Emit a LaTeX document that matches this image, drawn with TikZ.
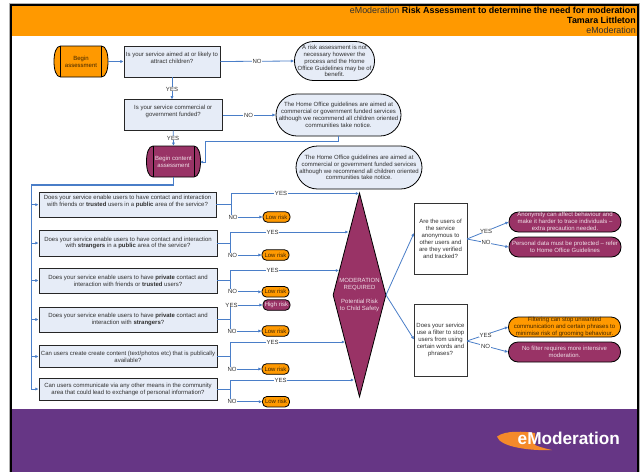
\documentclass[tikz,border=0pt]{standalone}
\usepackage{fontspec}
\setmainfont{Liberation Sans}
\usetikzlibrary{arrows.meta,shapes.geometric}
\definecolor{hdr}{HTML}{FF9900}
\definecolor{plum}{HTML}{993366}
\definecolor{foot}{HTML}{663685}
\definecolor{pale}{HTML}{E6ECF7}
\definecolor{wire}{HTML}{4A7EC8}
\definecolor{ink}{HTML}{303030}
\definecolor{swoosh}{HTML}{F58A2A}
\newcommand{\capsuleshape}[2]{%
  \begin{scope}[shift={#1}]
  \filldraw[fill=#2,draw=black,line width=.8pt] (-20.5,-15.5) -- (20.5,-15.5)
    .. controls (25,-15.5) and (27,-8) .. (27,0) .. controls (27,8) and (25,15.5) .. (20.5,15.5)
    -- (-20.5,15.5) .. controls (-25,15.5) and (-27,8) .. (-27,0) .. controls (-27,-8) and (-25,-15.5) .. (-20.5,-15.5) -- cycle;
  \draw[black,line width=.8pt] (-20.5,-15.5) -- (-20.5,15.5) (20.5,-15.5) -- (20.5,15.5);
  \end{scope}}
\tikzset{
  x=1pt,y=-1pt,
  every node/.style={font=\fontsize{6}{6.9}\selectfont,align=center,text=ink,inner sep=0pt},
  qbox/.style={draw=black!85,line width=.9pt,fill=pale,anchor=center},
  oval/.style={draw=black,line width=.8pt,fill=pale,rounded corners=19pt},
  pillplum/.style={draw=black,line width=.8pt,fill=plum,text=white!85!plum,rounded corners=9.5pt,minimum width=112pt,minimum height=20pt},
  pillorange/.style={pillplum,fill=hdr,text=black!75!hdr},
  lowrisk/.style={draw=black,line width=.8pt,fill=hdr,text=black!75!hdr,rounded corners=4.5pt,minimum width=27pt,minimum height=10.5pt},
  highrisk/.style={lowrisk,fill=plum,text=white!85!plum},
  whitebox/.style={draw=black!80,line width=.9pt,fill=white,minimum width=53pt},
  conn/.style={draw=wire,line width=.8pt},
  arrowed/.style={conn,-{Latex[length=3.2pt,width=3.2pt]}},
  lab/.style={fill=white,inner xsep=.6pt,inner ysep=.2pt},
  capsuletext/.style={minimum width=54pt,minimum height=31pt},
}
\begin{document}
\begin{tikzpicture}
\useasboundingbox (0,0) rectangle (640,472);
\fill[white] (0,0) rectangle (640,472);
% bands
\fill[hdr] (11,5) rectangle (638,36);
\fill[foot] (11,409) rectangle (638,472);
\draw[black!30,line width=.6pt] (9.4,3.4) -- (639.6,3.4) (9.4,3.4) -- (9.4,472) (639.6,3.4) -- (639.6,472);
\draw[black,line width=2pt] (11,472) -- (11,5) -- (638,5) -- (638,472);
% header
\node[anchor=east,text=black,font=\fontsize{8.9}{10}\selectfont,align=right] (title) at (636,20)
 {\textcolor{ink}{eModeration} \textbf{Risk Assessment to determine the need for moderation}\\ \textbf{Tamara Littleton}\\ \textcolor{ink}{eModeration}};
% logo
\fill[swoosh] (497,436.6) .. controls (505,430) and (525,431.5) .. (535,433) -- (535,445)
  .. controls (542,448) and (548,449) .. (552,450) .. controls (530,451) and (500,447) .. (497,436.6) -- cycle;
\node[text=white,font=\bfseries\fontsize{17.2}{17}\selectfont,anchor=west] (logo) at (517.5,438) {eModeration};
% top flow
\capsuleshape{(81,61.5)}{hdr}
\node[capsuletext,text=black!75!hdr] (begin) at (81,61.5) {Begin\\assessment};
\node[qbox,minimum width=96pt,minimum height=31pt,text depth=8pt] (q1) at (172,61.5) {Is your service aimed at or likely to\\attract children?};
\node[oval,minimum width=80pt,minimum height=39pt] (o1) at (334.5,61) {A risk assessment is not\\necessary however the\\process and the Home\\Office Guidelines may be of\\benefit.};
\node[qbox,minimum width=98.5pt,minimum height=30.5pt,text depth=7.5pt] (q2) at (173.2,115) {Is your service commercial or\\government funded?};
\node[oval,minimum width=125pt,minimum height=42pt,rounded corners=21pt] (o2) at (338.5,115) {The Home Office guidelines are aimed at\\commercial or government funded services\\although we recommend all children oriented\\communities take notice.};
\capsuleshape{(173.5,161.5)}{plum}
\node[capsuletext,text=white!85!plum] (bc) at (173.5,161.5) {Begin content\\assessment};
\node[oval,minimum width=126pt,minimum height=43pt,rounded corners=21.5pt] (o3) at (359,167.5) {The Home Office guidelines are aimed at\\commercial or government funded services\\although we recommend all children oriented\\communities take notice.};
% questions
\node[qbox,minimum width=177pt,minimum height=25.5pt,text depth=7pt] (q3) at (127.5,204.7) {Does your service enable users to have contact and interaction\\with friends or \textbf{trusted} users in a \textbf{public} area of the service?};
\node[qbox,minimum width=178pt,minimum height=26pt] (q4) at (128,243) {Does your service enable users to have contact and interaction\\with \textbf{strangers} in a \textbf{public} area of the service?};
\node[qbox,minimum width=178pt,minimum height=25pt] (q5) at (128,280.5) {Does your service enable users to have \textbf{private} contact and\\interaction with friends or \textbf{trusted} users?};
\node[qbox,minimum width=178pt,minimum height=25pt] (q6) at (128,319.5) {Does your service enable users to have \textbf{private} contact and\\interaction with \textbf{strangers}?};
\node[qbox,minimum width=178pt,minimum height=21.5pt] (q7) at (128,356.5) {Can users create create content (text/photos etc) that is publically\\available?};
\node[qbox,minimum width=178pt,minimum height=22pt] (q8) at (128,389) {Can users communicate via any other means in the community\\area that could lead to exchange of personal information?};
% risk tags
\node[lowrisk] (r3) at (276.5,217) {Low risk};
\node[lowrisk] (r4) at (275.5,255) {Low risk};
\node[lowrisk] (r5) at (275.5,291.8) {Low risk};
\node[highrisk] (r6a) at (276.5,305) {High risk};
\node[lowrisk] (r6) at (275.5,331) {Low risk};
\node[lowrisk] (r7) at (275.5,369) {Low risk};
\node[lowrisk] (r8) at (276,401.7) {Low risk};
% diamond
\node[diamond,draw=black,line width=.8pt,fill=plum,minimum width=53pt,minimum height=204pt] (mod) at (359.5,295) {};
\node[text=white!85!plum] (modtxt) at (359.5,295) {MODERATION\\REQUIRED\\[7.5pt]Potential Risk\\to Child Safety};
% right side
\node[whitebox,minimum height=71pt] (b1) at (440.5,239) {Are the users of\\the service\\anonymous to\\other users and\\are they verified\\and tracked?};
\node[whitebox,minimum height=72pt] (b2) at (440.5,340) {Does your service\\use a filter to stop\\users from using\\certain words and\\phrases?};
\node[pillplum] (pa) at (565,222) {Anonymity can affect behaviour and\\make it harder to trace individuals --\\extra precaution needed.};
\node[pillplum] (pb) at (565,247) {Personal data must be protected -- refer\\to Home Office Guidelines};
\node[pillorange] (pc) at (564.5,327) {Filtering can stop unwanted\\communication and certain phrases to\\minimise risk of grooming behaviour.};
\node[pillplum] (pd) at (564.5,352) {No filter requires more intensive\\moderation.};
% junctions
\coordinate (j3) at (231,204.7);
\coordinate (j4) at (230.5,243);
\coordinate (j5) at (230.5,280.5);
\coordinate (j6) at (230.5,319.5);
\coordinate (j7) at (230.5,356.5);
\coordinate (j8) at (230.5,389);
\coordinate (d3) at (359,193.5);
\coordinate (d4) at (348.5,232);
\coordinate (d5) at (339,270.5);
\coordinate (d7) at (345,342);
\coordinate (d8) at (354,380);
\coordinate (bus) at (31,185);
\coordinate (rb1) at (467,239);
\coordinate (rb2) at (467,341);
\coordinate (b1in) at (414,233);
\coordinate (b2in) at (414,339.5);
\coordinate (modr) at (386,295);
\coordinate (o2out) at (338,136);
\coordinate (o2a) at (338,141);
\coordinate (o2b) at (205,141);
\coordinate (bce) at (200,162);
% connectors
\draw[arrowed] (begin.east) -- (q1.west);
\draw[arrowed] (q1.east) -- (o1.west);
\draw[arrowed] (q1.south) -- (q2.north -| q1.south);
\draw[arrowed] (q2.east) -- (o2.west);
\draw[arrowed] (q2.south) -- (bc.north);
\draw[arrowed] (o2out) -- (o2a) -- (o2b) -- (o2b |- bce) -- (bce);
\draw[conn,line width=1.3pt] (bc.south) |- (bus);
\draw[arrowed] (bus) |- (q8.west);
\foreach \q in {q3,q4,q5,q6,q7}{\draw[arrowed] (bus |- \q.west) -- (\q.west);}
\foreach \q/\j in {q3/j3,q4/j4,q5/j5,q6/j6,q7/j7,q8/j8}{\draw[conn,line width=1pt] (\q.east) -- (\j);}
\draw[arrowed] (j3) |- (d3);  \draw[arrowed] (j3) |- (r3.west);
\draw[arrowed] (j4) |- (d4);  \draw[arrowed] (j4) |- (r4.west);
\draw[arrowed] (j5) |- (d5);  \draw[arrowed] (j5) |- (r5.west);
\draw[arrowed] (j6) |- (r6a.west); \draw[arrowed] (j6) |- (r6.west);
\draw[arrowed] (j7) |- (d7);  \draw[arrowed] (j7) |- (r7.west);
\draw[arrowed] (j8) |- (d8);  \draw[arrowed] (j8) |- (r8.west);
\draw[arrowed] (modr) -- (b1in);
\draw[arrowed] (modr) -- (b2in);
\draw[arrowed] (rb1) -- (pa.west);
\draw[arrowed] (rb1) -- (pb.west);
\draw[arrowed] (rb2) -- (pc.west);
\draw[arrowed] (rb2) -- (pd.west);
% labels
\node[lab] (l1) at (257,61) {NO};
\node[lab] (l2) at (172,89) {YES};
\node[lab] (l3) at (248.5,115) {NO};
\node[lab] (l4) at (173,138) {YES};
\node[lab] (y3) at (281,193) {YES};
\node[lab] (n3) at (233,217) {NO};
\node[lab] (y4) at (272.5,232) {YES};
\node[lab] (n4) at (232.5,255) {NO};
\node[lab] (y5) at (272.5,270.5) {YES};
\node[lab] (n5) at (232.5,291.8) {NO};
\node[lab] (y6) at (231.5,305) {YES};
\node[lab] (n6) at (232,331) {NO};
\node[lab] (y7) at (272.5,342) {YES};
\node[lab] (n7) at (232,369) {NO};
\node[lab] (y8) at (280.5,380) {YES};
\node[lab] (n8) at (232,401) {NO};
\node[lab] (ya) at (486,231) {YES};
\node[lab] (na) at (486,242) {NO};
\node[lab] (yc) at (485.5,335) {YES};
\node[lab] (nc) at (485.5,346) {NO};
\end{tikzpicture}
\end{document}
